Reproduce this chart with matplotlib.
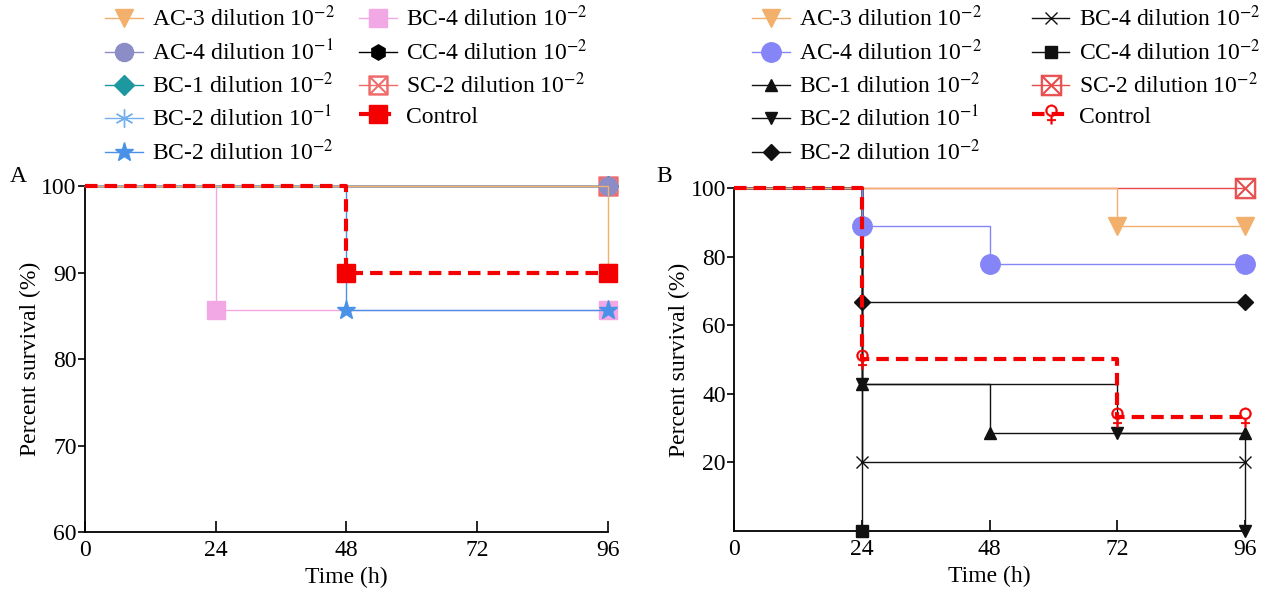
import matplotlib
matplotlib.use("Agg")
import matplotlib.pyplot as plt

plt.rcParams['font.family'] = ['Liberation Serif', 'DejaVu Serif']
plt.rcParams['mathtext.fontset'] = 'stix'
plt.rcParams['font.size'] = 17

# ---- data (time in h, percent survival) ----
times_a = {
    'AC-3': [0, 96], 'AC-4': [0, 96], 'BC-1': [0, 96], 'BC-2a': [0, 96],
    'BC-2b': [0, 48, 96], 'BC-4': [0, 24, 96], 'CC-4': [0, 96],
    'SC-2': [0, 96], 'Control': [0, 48, 96],
}
surv_a = {
    'AC-3': [100, 90], 'AC-4': [100, 100], 'BC-1': [100, 100], 'BC-2a': [100, 100],
    'BC-2b': [100, 85.7, 85.7], 'BC-4': [100, 85.7, 85.7], 'CC-4': [100, 100],
    'SC-2': [100, 100], 'Control': [100, 90, 90],
}
labels_a = {
    'AC-3': 'AC-3 dilution 10$^{-2}$', 'AC-4': 'AC-4 dilution 10$^{-1}$',
    'BC-1': 'BC-1 dilution 10$^{-2}$', 'BC-2a': 'BC-2 dilution 10$^{-1}$',
    'BC-2b': 'BC-2 dilution 10$^{-2}$', 'BC-4': 'BC-4 dilution 10$^{-2}$',
    'CC-4': 'CC-4 dilution 10$^{-2}$', 'SC-2': 'SC-2 dilution 10$^{-2}$',
    'Control': 'Control',
}

times_b = {
    'AC-3': [0, 72, 96], 'AC-4': [0, 24, 48, 96], 'BC-1': [0, 24, 48, 96],
    'BC-2a': [0, 24, 72, 96], 'BC-2b': [0, 24, 96], 'BC-4': [0, 24, 96],
    'CC-4': [0, 24], 'SC-2': [0, 96], 'Control': [0, 24, 72, 96],
}
surv_b = {
    'AC-3': [100, 88.9, 88.9], 'AC-4': [100, 88.9, 77.8, 77.8],
    'BC-1': [100, 42.9, 28.6, 28.6], 'BC-2a': [100, 42.9, 28.6, 0],
    'BC-2b': [100, 66.7, 66.7], 'BC-4': [100, 20, 20], 'CC-4': [100, 0],
    'SC-2': [100, 100], 'Control': [100, 50, 33.3, 33.3],
}
labels_b = dict(labels_a)
labels_b['AC-4'] = 'AC-4 dilution 10$^{-2}$'

# ---- styles ----
dash = (0, (3.0, 1.7))
style_a = {
    'AC-3': dict(color='#F2B06C', marker='v', ms=13, lw=1.0),
    'AC-4': dict(color='#8C8CC6', marker='o', ms=13, lw=1.0),
    'BC-1': dict(color='#1D98A0', marker='D', ms=10, lw=1.0),
    'BC-2a': dict(color='#72B0F0', marker=(6, 2, 0), ms=13, lw=1.0),
    'BC-2b': dict(color='#4A92E8', marker='*', ms=14, lw=1.0),
    'BC-4': dict(color='#F2A8E4', marker='s', ms=13, lw=1.0),
    'CC-4': dict(color='black', marker='h', ms=11, lw=1.0),
    'SC-2': dict(color='#F06A6A', marker=r'$\boxtimes$', ms=14, lw=1.0, mew=0.5),
    'Control': dict(color='#F50000', marker='s', ms=13, lw=3.0, ls=dash),
}
style_b = {
    'AC-3': dict(color='#F2B06C', marker='v', ms=13, lw=1.0),
    'AC-4': dict(color='#8585F8', marker='o', ms=14, lw=1.0),
    'BC-1': dict(color='#111111', marker='^', ms=8, lw=1.0),
    'BC-2a': dict(color='#111111', marker='v', ms=8, lw=1.0),
    'BC-2b': dict(color='#111111', marker='D', ms=8, lw=1.0),
    'BC-4': dict(color='#111111', marker='x', ms=8, lw=1.0),
    'CC-4': dict(color='#111111', marker='s', ms=8, lw=1.0),
    'SC-2': dict(color='#E84A4A', marker=r'$\boxtimes$', ms=15, lw=1.0, mew=0.5),
    'Control': dict(color='#F50000', marker='$\u2640$', ms=14, lw=3.0, ls=dash, mew=0.3),
}
order = ['AC-3', 'AC-4', 'BC-1', 'BC-2a', 'BC-2b', 'BC-4', 'CC-4', 'SC-2', 'Control']

fig = plt.figure(figsize=(12.68, 5.91), dpi=100)
ax_a = fig.add_axes([0.067, 0.0998, 0.4125, 0.5852])
ax_b = fig.add_axes([0.579, 0.1015, 0.403, 0.5805])


def draw(ax, times, surv, labels, styles):
    handles = []
    # later legend entries are drawn underneath earlier ones; control on top
    for i, key in enumerate(order):
        st = dict(styles[key])
        z = 5 if key == 'Control' else 3 + (len(order) - i) * 0.1
        h, = ax.plot(times[key], surv[key], drawstyle='steps-post',
                     markevery=slice(1, None), clip_on=False, zorder=z,
                     label=labels[key], **st)
        handles.append(h)
    for s in ['top', 'right']:
        ax.spines[s].set_visible(False)
    for s in ['left', 'bottom']:
        ax.spines[s].set_linewidth(1.3)
    ax.tick_params(axis='y', direction='out', length=5, width=1.2, labelsize=17, pad=1)
    ax.tick_params(axis='x', direction='in', length=8, width=1.2, labelsize=17, pad=6)
    ax.set_xlim(0, 96)
    ax.set_xticks([0, 24, 48, 72, 96])
    ax.set_xlabel('Time (h)', fontsize=17, labelpad=4)
    ax.set_ylabel('Percent survival (%)', fontsize=17, labelpad=0)
    return handles


h_a = draw(ax_a, times_a, surv_a, labels_a, style_a)
ax_a.set_ylim(60, 100)
ax_a.set_yticks([60, 70, 80, 90, 100])

h_b = draw(ax_b, times_b, surv_b, labels_b, style_b)
ax_b.set_ylim(0, 100)
ax_b.set_yticks([20, 40, 60, 80, 100])

leg_kw = dict(loc='upper left', ncol=2, frameon=False, fontsize=17,
              borderpad=0, borderaxespad=0, handlelength=1.6, handletextpad=0.4,
              labelspacing=0.33)
fig.legend(handles=h_a, bbox_to_anchor=(0.083, 0.99), columnspacing=1.0, **leg_kw)
fig.legend(handles=h_b, bbox_to_anchor=(0.593, 0.99), columnspacing=2.1, **leg_kw)

fig.text(0.008, 0.692, 'A', fontsize=17)
fig.text(0.518, 0.692, 'B', fontsize=17)

fig.savefig('out.png', dpi=100)
